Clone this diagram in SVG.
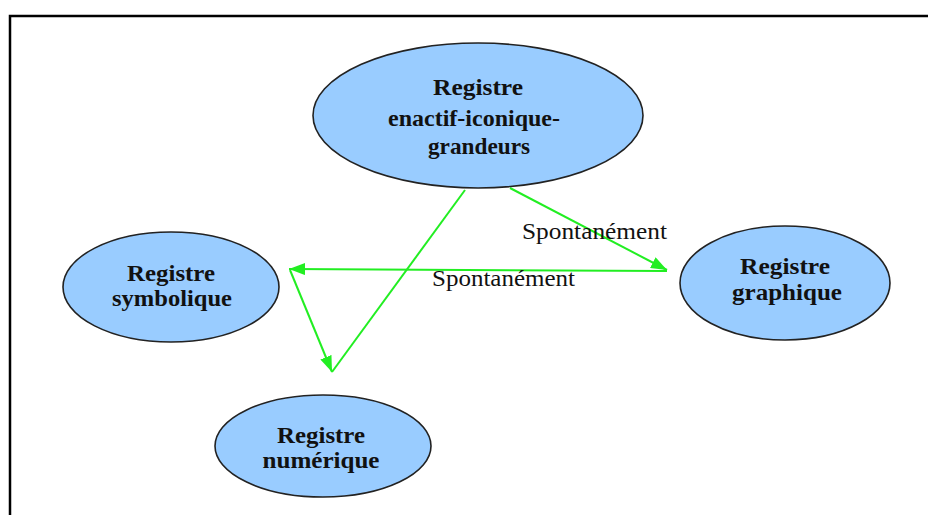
<svg xmlns="http://www.w3.org/2000/svg" width="928" height="515" viewBox="0 0 928 515">
<defs>
<style>
.node ellipse{fill:#99ccff;stroke:#222;stroke-width:1.6}
.nt{font-family:"Liberation Serif","Times New Roman",serif;font-weight:bold;font-size:24px;fill:#111;text-anchor:middle}
.lbl{font-family:"Liberation Serif","Times New Roman",serif;font-size:23px;fill:#111}
.conn line{stroke:#22ee22;stroke-width:2;fill:none}
</style>
<marker id="ah" viewBox="0 0 16 12" refX="16" refY="6" markerWidth="16" markerHeight="12" markerUnits="userSpaceOnUse" orient="auto">
<path d="M0,0 L16,6 L0,12 Z" fill="#22ee22"/>
</marker>
</defs>
<rect x="0" y="0" width="928" height="515" fill="#fff"/>
<path d="M10,515 V16 H928" fill="none" stroke="#000" stroke-width="2.5"/>
<g class="conn">
<line x1="465" y1="190" x2="332" y2="372"/>
<line x1="510" y1="188" x2="667" y2="270" marker-end="url(#ah)"/>
<line x1="667" y1="271" x2="289" y2="269" marker-end="url(#ah)"/>
<line x1="290" y1="270" x2="332" y2="372" marker-end="url(#ah)"/>
</g>
<g class="labels">
<text class="lbl" x="522" y="239" textLength="145" lengthAdjust="spacingAndGlyphs">Spontanément</text>
<text class="lbl" x="432" y="286" textLength="143" lengthAdjust="spacingAndGlyphs">Spontanément</text>
</g>
<g id="enactif" class="node">
<ellipse cx="478" cy="115.5" rx="165" ry="72.5"/>
<text class="nt" x="478" y="95" textLength="90" lengthAdjust="spacingAndGlyphs">Registre</text>
<text class="nt" x="474" y="126" textLength="172" lengthAdjust="spacingAndGlyphs">enactif-iconique-</text>
<text class="nt" x="479" y="154" textLength="102" lengthAdjust="spacingAndGlyphs">grandeurs</text>
</g>
<g id="symbolique" class="node">
<ellipse cx="171" cy="287" rx="108" ry="55"/>
<text class="nt" x="171" y="281" textLength="88" lengthAdjust="spacingAndGlyphs">Registre</text>
<text class="nt" x="172" y="306" textLength="120" lengthAdjust="spacingAndGlyphs">symbolique</text>
</g>
<g id="graphique" class="node">
<ellipse cx="785" cy="283" rx="105" ry="57"/>
<text class="nt" x="785" y="274" textLength="90" lengthAdjust="spacingAndGlyphs">Registre</text>
<text class="nt" x="787" y="300" textLength="110" lengthAdjust="spacingAndGlyphs">graphique</text>
</g>
<g id="numerique" class="node">
<ellipse cx="323" cy="446" rx="108" ry="51"/>
<text class="nt" x="321" y="443" textLength="88" lengthAdjust="spacingAndGlyphs">Registre</text>
<text class="nt" x="321" y="468" textLength="117" lengthAdjust="spacingAndGlyphs">numérique</text>
</g>
</svg>
